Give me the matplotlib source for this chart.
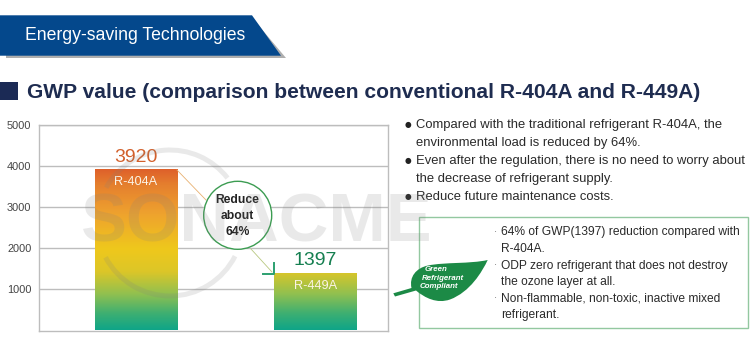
import numpy as np
import matplotlib
matplotlib.use("Agg")
import matplotlib.pyplot as plt
from matplotlib.colors import LinearSegmentedColormap
from matplotlib.patches import Polygon, Rectangle, Circle, Arc, PathPatch
from matplotlib.path import Path

plt.rcParams['font.family'] = ['Liberation Sans', 'DejaVu Sans']

# ---- data ----
refrigerants = ["R-404A", "R-449A"]
gwp_values = [3920, 1397]
value_colors = ["#D2602C", "#157F50"]
y_ticks = [1000, 2000, 3000, 4000, 5000]
header = "Energy-saving Technologies"
title = "GWP value (comparison between conventional R-404A and R-449A)"
callout = "Reduce\nabout\n64%"
bullets = [
    ("\u25cf", "Compared with the traditional refrigerant R-404A, the", 125),
    ("", "environmental load is reduced by 64%.", 143),
    ("\u25cf", "Even after the regulation, there is no need to worry about", 161),
    ("", "the decrease of refrigerant supply.", 179),
    ("\u25cf", "Reduce future maintenance costs.", 197),
]
box_lines = [
    ("\u00b7", "64% of GWP(1397) reduction compared with", 232.5),
    ("", "R-404A.", 249),
    ("\u00b7", "ODP zero refrigerant that does not destroy", 265.5),
    ("", "the ozone layer at all.", 282),
    ("\u00b7", "Non-flammable, non-toxic, inactive mixed", 298.5),
    ("", "refrigerant.", 315),
]
leaf_lines = [("Green", 424.5, 269.5), ("Refrigerant", 422, 278), ("Compliant", 420, 286.5)]

W, H = 750, 352
fig = plt.figure(figsize=(W / 100, H / 100), dpi=100, facecolor="white")

# ---- chart axes ----
ax = fig.add_axes([38.5 / W, (H - 330.5) / H, 349.5 / W, 206 / H])
ax.set_xticks([])
ax.set_yticks(y_ticks)
ax.tick_params(axis="y", length=0, pad=5, labelsize=7.9, labelcolor="#444444")
ax.grid(axis="y", color="#BDBDBD", lw=1)
ax.set_axisbelow(True)
for s in ax.spines.values():
    s.set_color("#BDBDBD")
    s.set_linewidth(1)

cmap = LinearSegmentedColormap.from_list("g", [
    (0.00, "#0FA588"), (0.10, "#3DAF72"), (0.22, "#90C050"), (0.36, "#DCC628"),
    (0.50, "#EFC81C"), (0.72, "#EEA22E"), (0.90, "#E57F2E"), (1.00, "#DE5E2A")])
grad = np.linspace(1, 0, 256).reshape(-1, 1)
bars = ax.bar(range(len(gwp_values)), gwp_values, width=0.459, color="none", zorder=2)
for bar, value, name, col in zip(bars, gwp_values, refrigerants, value_colors):
    x0, x1 = bar.get_x(), bar.get_x() + bar.get_width()
    im = ax.imshow(grad, extent=[x0, x1, 0, max(gwp_values)], cmap=cmap, vmin=0, vmax=1,
                   aspect="auto", zorder=2)
    im.set_clip_path(Rectangle((x0, 0), x1 - x0, value, transform=ax.transData))
    xc = (x0 + x1) / 2
    ax.text(xc, value + 290, str(value), color=col, fontsize=14, ha="center", va="center", zorder=4)
    ax.text(xc, value - 320, name, color="#FBF4E6", fontsize=9.2, ha="center", va="center", zorder=4)
ax.set_xlim(-0.541, 1.403)
ax.set_ylim(0, 5000)

# ---- overlay in pixel coordinates ----
ov = fig.add_axes([0, 0, 1, 1], facecolor="none")
ov.set_xlim(0, W)
ov.set_ylim(H, 0)
ov.axis("off")

# header band
ov.add_patch(Polygon([(6, 20), (254, 20), (286, 58), (6, 58)], fc="#AEAEAE", ec="none", zorder=1))
ov.add_patch(Polygon([(0, 15.3), (252, 15.3), (281, 55.7), (0, 55.7)], fc="#04488C", ec="none", zorder=2))
ov.text(25, 36, header, color="white", fontsize=12.7, va="center", ha="left", zorder=3)

# title
ov.add_patch(Rectangle((0, 82), 18, 18, fc="#1B2A55", ec="none"))
ov.text(27, 92, title, color="#1E2C50", fontsize=15.15, fontweight="bold", va="center", ha="left")

# connector
ov.plot([177, 206], [170, 200], color="#E8B070", lw=0.6, zorder=3)
ov.plot([251, 272], [249, 272], color="#B8C880", lw=0.6, zorder=3)
ov.plot([273.5, 273.5, 263], [263, 273.5, 273.5], color="#2CA070", lw=1.4, zorder=3)

# callout
ov.add_patch(Circle((237.7, 215.3), 34, fc="white", ec="#3C9C52", lw=1, zorder=4))
ov.text(237.5, 216, callout, color="#222222", fontsize=8.7, fontweight="bold", ha="center",
        va="center", linespacing=1.42, zorder=5)

# text on the right
for mark, line, y in bullets:
    if mark:
        ov.text(405, y, mark, color="#222222", fontsize=5.5, va="center", ha="left",
                family=["DejaVu Sans"])
    ov.text(416, y, line, color="#2A2A2A", fontsize=9.35, va="center", ha="left")

# green box
ov.add_patch(Rectangle((418.5, 216.5), 329, 111.5, fc="white", ec="#93C8A0", lw=1, zorder=1))
for mark, line, y in box_lines:
    if mark:
        ov.text(494, y, mark, color="#666666", fontsize=7, va="center", ha="left", zorder=3)
    ov.text(501, y, line, color="#2A2A2A", fontsize=8.63, va="center", ha="left", zorder=3)

# leaf
leaf = Path(
    [(393.3, 293.3), (411.5, 288),
     (409, 277), (416, 268), (428, 265.5),
     (445, 262), (470, 264), (487.7, 260),
     (482, 272), (470, 292), (450, 299.5),
     (437, 304), (425, 298), (416, 290.5),
     (395, 296.5), (393.3, 293.3)],
    [Path.MOVETO, Path.LINETO,
     Path.CURVE4, Path.CURVE4, Path.CURVE4,
     Path.CURVE4, Path.CURVE4, Path.CURVE4,
     Path.CURVE4, Path.CURVE4, Path.CURVE4,
     Path.CURVE4, Path.CURVE4, Path.CURVE4,
     Path.LINETO, Path.CLOSEPOLY])
ov.add_patch(PathPatch(leaf, fc="#1C8A46", ec="none", zorder=3))
for word, x, y in leaf_lines:
    ov.text(x, y, word, color="white", fontsize=5.7, fontweight="bold", style="italic",
            ha="left", va="center", zorder=4)

# watermark
ov.text(81, 224, "SONACME", fontsize=49.5, fontweight="bold", va="center", ha="left",
        color="#808080", alpha=0.17, zorder=6)
ov.add_patch(Arc((170, 223), 146, 146, theta1=209, theta2=322, ec="#808080", lw=3.6, alpha=0.17, zorder=6))
ov.add_patch(Arc((170, 223), 146, 146, theta1=27, theta2=152, ec="#808080", lw=3.6, alpha=0.17, zorder=6))

fig.savefig("out.png", dpi=100, facecolor="white")
